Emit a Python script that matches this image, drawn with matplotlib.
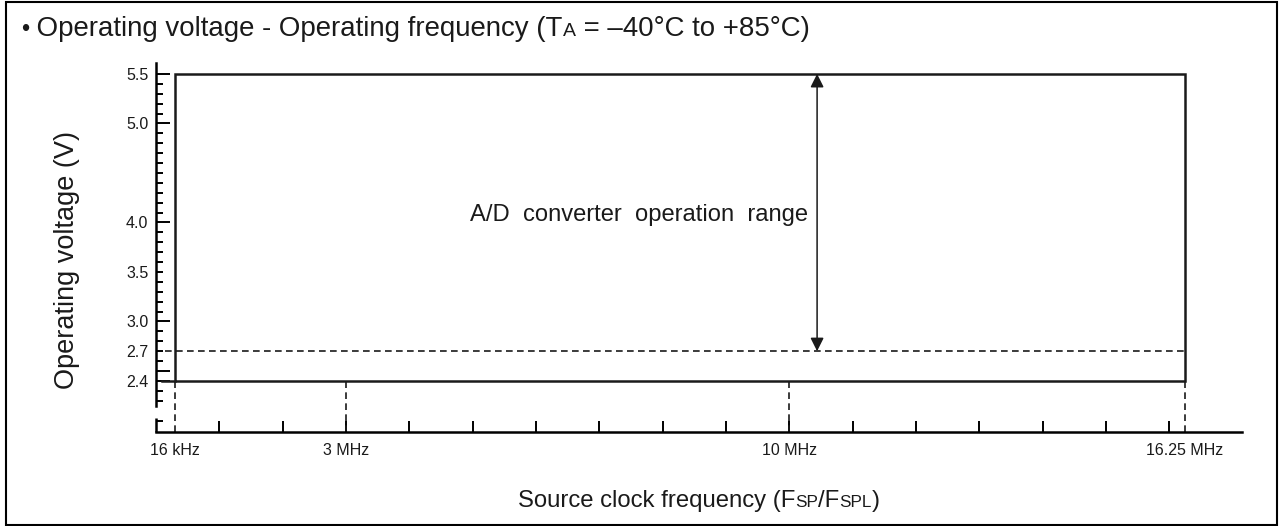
import numpy as np
import matplotlib.pyplot as plt
from matplotlib.patches import Rectangle
from matplotlib.ticker import FixedLocator, FixedFormatter

plt.rcParams['font.family'] = ['Liberation Sans', 'DejaVu Sans']

# ---- data (frequency in MHz, voltage in V) ----
freq_minor_ticks = list(range(1, 17))
freq_label_pos = [0.3, 3, 10, 16.25]          # 16 kHz is drawn schematically near 0
freq_labels = ["16 kHz", "3 MHz", "10 MHz", "16.25 MHz"]
volt_labels = [2.4, 2.7, 3.0, 3.5, 4.0, 5.0, 5.5]
volt_long_ticks = [2.4, 2.5, 3.0, 4.0, 5.0, 5.5]
volt_minor_ticks = [2.0] + [round(v, 1) for v in np.arange(2.2, 5.51, 0.1)]

range_freq = (0.3, 16.25)
range_volt = (2.4, 5.5)
adc_min_volt = 2.7
arrow_freq = 10.44

x_lim = (0, 17.15)
y_lim = (1.884, 5.61)
y_break = (2.025, 2.146)

W_PX, H_PX = 1282, 526
LW = 1.8
INK = "#1a1a1a"


def draw_runs(fig, x_px, y_px, runs, ha="left"):
    """Draw text pieces of different sizes on one baseline."""
    r = fig.canvas.get_renderer()
    arts, widths = [], []
    for s, size in runs:
        t = fig.text(0, 0, s, fontsize=size, va="baseline", color=INK)
        arts.append(t)
        widths.append(t.get_window_extent(r).width)
    x0 = x_px - sum(widths) / 2 if ha == "center" else x_px
    for t, w in zip(arts, widths):
        t.set_position((x0 / W_PX, 1 - y_px / H_PX))
        x0 += w


def main():
    fig = plt.figure(figsize=(W_PX / 100, H_PX / 100), dpi=100)
    ax = fig.add_axes([156 / W_PX, 1 - 432 / H_PX, (1242 - 156) / W_PX, (432 - 63) / H_PX])
    ax.set_xlim(*x_lim)
    ax.set_ylim(*y_lim)

    for side in ["top", "right"]:
        ax.spines[side].set_visible(False)
    for side in ["left", "bottom"]:
        ax.spines[side].set_linewidth(LW)
    ax.spines["left"].set_bounds(y_break[1], y_lim[1])
    ax.plot([x_lim[0], x_lim[0]], [y_lim[0], y_break[0]], color="k", lw=LW,
            clip_on=False, solid_capstyle="butt")

    # y ticks
    y_major = sorted(set(volt_labels + volt_long_ticks))
    ax.yaxis.set_major_locator(FixedLocator(y_major))
    ax.yaxis.set_major_formatter(FixedFormatter(
        [f"{v:.1f}" if v in volt_labels else "" for v in y_major]))
    ax.yaxis.set_minor_locator(FixedLocator(volt_minor_ticks))
    ax.tick_params(axis="y", which="both", direction="in", width=1.4, pad=5.6,
                   labelsize=11.5, labelcolor=INK)
    ax.tick_params(axis="y", which="minor", length=5)
    for v, tick in zip(y_major, ax.yaxis.get_major_ticks()):
        tick.tick1line.set_markersize(10 if v in volt_long_ticks else 5)

    # x ticks
    ax.xaxis.remove_overlapping_locs = False
    ax.xaxis.set_major_locator(FixedLocator(freq_label_pos))
    ax.xaxis.set_major_formatter(FixedFormatter(freq_labels))
    ax.xaxis.set_minor_locator(FixedLocator(freq_minor_ticks))
    ax.tick_params(axis="x", which="major", length=0, pad=8, labelsize=11.5,
                   labelcolor=INK)
    ax.tick_params(axis="x", which="minor", direction="in", length=8, width=1.4)

    # operating range box
    ax.add_patch(Rectangle((range_freq[0], range_volt[0]),
                           range_freq[1] - range_freq[0], range_volt[1] - range_volt[0],
                           fill=False, lw=LW, ec=INK))
    ax.plot([0.1, range_freq[0]], [range_volt[0]] * 2, color=INK, lw=LW)

    # dashed guides
    dash = dict(color=INK, lw=1.2, linestyle=(0, (4, 2.6)))
    ax.vlines(freq_label_pos, y_lim[0], range_volt[0], **dash)
    ax.hlines(adc_min_volt, 0.15, range_freq[1], **dash)

    # A/D range arrow
    ax.annotate("", xy=(arrow_freq, range_volt[1]), xytext=(arrow_freq, adc_min_volt),
                arrowprops=dict(arrowstyle="<|-|>", color=INK, lw=1.1,
                                mutation_scale=20, shrinkA=0, shrinkB=0))
    ax.text(arrow_freq - 0.14, 4.08, "A/D  converter  operation  range",
            ha="right", va="center", fontsize=17.1, color=INK)

    # titles and labels
    fig.text(67 / W_PX, 1 - 260 / H_PX, "Operating voltage (V)", rotation=90,
             ha="center", va="center", fontsize=19.5, color=INK)
    draw_runs(fig, 21, 36, [("\u2022", 17), (" Operating voltage - Operating frequency (T", 19.9),
                            ("A", 14), (" = \u201340\u00b0C to +85\u00b0C)", 19.9)])
    draw_runs(fig, 699, 507, [("Source clock frequency (F", 17.2), ("SP", 12.3),
                              ("/F", 17.2), ("SPL", 12.3), (")", 17.2)], ha="center")

    # outer frame
    fig.add_artist(Rectangle((6 / W_PX, 1 / H_PX), 1271 / W_PX, 523 / H_PX,
                             transform=fig.transFigure, fill=False, lw=1.5, ec="k"))

    fig.savefig("out.png", dpi=100)


if __name__ == "__main__":
    main()
